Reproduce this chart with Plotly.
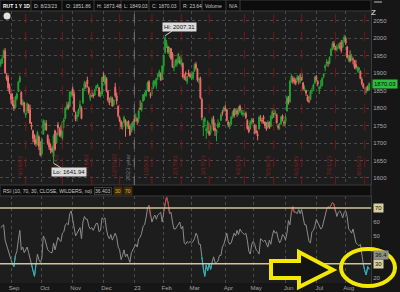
import plotly.graph_objects as go
import pandas as pd

# ---------------- data ----------------
holidays = ["2022-09-05", "2022-11-24", "2022-12-26", "2023-01-02", "2023-01-16",
            "2023-02-20", "2023-04-07", "2023-05-29", "2023-06-19", "2023-07-04"]
dates = [d for d in pd.bdate_range("2022-08-23", "2023-08-23")
         if d.strftime("%Y-%m-%d") not in holidays]

open_ = [1925,1930,1945,1963,1893,1888,1862,
 1840,1832,1810,1802,1828,1848,1876,1845,1812,1815,1780,1792,1808,1795,1752,1735,1712,1710,1698,1718,1688,
 1668,1725,1750,1755,1722,1702,1685,1684,1660,1735,1700,1752,1730,1738,1715,1762,1770,1798,1810,1805,1838,
 1855,1840,1780,1775,1782,1800,1800,1815,1858,1865,1880,1858,1828,1845,1838,1837,1855,1860,1858,1835,1840,
 1892,1870,1885,1848,1820,1822,1826,1810,1860,1835,1805,1772,1762,1745,1760,1765,1748,1762,1748,1732,1745,
 1768,1770,1770,1770,1800,1795,1820,1836,1835,1850,1875,1840,1840,1858,1870,1865,1890,1892,1898,1882,
 1920,1960,1975,1975,1955,1970,1955,1915,1922,1925,1930,1935,1925,1928,1890,1900,1875,1900,1895,
 1890,1885,1905,1925,1912,1880,1885,1825,1745,1760,1735,1738,1755,1730,1755,1768,1742,1728,1745,1752,1765,1788,1792,
 1800,1795,1760,1748,1755,1778,1795,1785,1792,1785,1805,1785,1782,1788,1785,1765,1745,1742,1760,
 1765,1752,1735,1725,1740,1772,1765,1775,1760,1752,1745,1758,1748,1772,1790,1785,1780,1748,1752,1755,1778,1760,
 1760,1792,1828,1818,1878,1885,1880,1878,1880,1888,1875,1898,1872,1852,1850,1832,1820,1825,1848,1855,1872,
 1890,1875,1855,1862,1865,1890,1915,1928,1930,1928,1950,1970,1985,1972,1968,1978,1975,1988,1975,1992,
 2000,1975,1938,1950,1940,1940,1935,1925,1910,1908,1905,1882,1868,1848,1848,1860,1851.86]
high = [1940,1948,1968,1972,1900,1895,1870,
 1845,1842,1822,1835,1845,1878,1893,1848,1825,1818,1800,1816,1812,1810,1760,1738,1725,1722,1735,1722,1705,
 1714,1768,1766,1765,1725,1712,1698,1692,1725,1738,1730,1760,1745,1750,1762,1772,1803,1818,1818,1848,1850,
 1862,1848,1790,1790,1800,1822,1805,1858,1878,1875,1890,1862,1842,1852,1842,1855,1866,1870,1860,1848,1888,
 1902,1896,1888,1852,1830,1835,1832,1825,1872,1845,1808,1778,1765,1760,1778,1768,1763,1765,1752,1758,1762,
 1782,1785,1772,1795,1822,1816,1840,1845,1852,1876,1880,1845,1860,1880,1880,1886,1898,1910,1902,1922,
 1952,2007.31,1995,1978,1975,1972,1960,1925,1940,1942,1958,1948,1948,1930,1898,1905,1892,1910,1902,
 1900,1905,1928,1932,1915,1888,1890,1830,1770,1775,1745,1765,1758,1752,1775,1778,1758,1740,1768,1760,1785,1795,1805,
 1810,1798,1765,1760,1778,1792,1800,1798,1798,1805,1810,1795,1795,1795,1790,1768,1750,1765,1772,
 1772,1755,1752,1735,1778,1780,1772,1780,1762,1760,1765,1762,1780,1795,1800,1795,1785,1755,1758,1778,1782,1765,
 1780,1835,1835,1880,1898,1892,1888,1885,1895,1892,1900,1905,1875,1865,1852,1838,1835,1852,1858,1870,1892,
 1895,1880,1862,1880,1888,1900,1925,1940,1935,1948,1972,1990,1992,1978,1982,1985,1988,1995,1995,2010,
 2005,1978,1952,1965,1955,1945,1938,1938,1920,1918,1908,1888,1872,1860,1862,1865,1873.48]
low = [1918,1926,1943,1898,1878,1850,1840,
 1813,1805,1792,1798,1822,1846,1872,1808,1806,1785,1772,1785,1785,1755,1738,1702,1695,1690,1693,1680,1662,
 1665,1724,1735,1735,1695,1680,1670,1672,1641.94,1678,1698,1722,1718,1715,1708,1742,1768,1795,1795,1802,1832,
 1835,1788,1762,1762,1775,1790,1768,1812,1850,1855,1858,1838,1820,1832,1828,1835,1852,1858,1832,1830,1835,
 1875,1865,1845,1818,1808,1815,1804,1805,1830,1810,1772,1755,1740,1738,1755,1718,1740,1740,1720,1730,1738,
 1752,1760,1752,1758,1795,1790,1818,1822,1832,1848,1845,1828,1835,1855,1862,1855,1880,1888,1878,1880,
 1905,1955,1972,1955,1945,1938,1915,1905,1918,1918,1928,1925,1918,1885,1880,1878,1868,1890,1885,
 1880,1880,1903,1910,1875,1870,1825,1765,1720,1745,1712,1728,1720,1722,1752,1735,1720,1705,1742,1745,1762,1778,1788,
 1790,1762,1745,1740,1750,1770,1772,1780,1775,1780,1788,1780,1775,1778,1768,1738,1728,1738,1752,
 1755,1725,1725,1708,1738,1762,1755,1755,1742,1735,1742,1740,1745,1768,1772,1778,1755,1738,1738,1752,1762,1748,
 1752,1790,1810,1815,1872,1870,1868,1865,1875,1868,1870,1878,1850,1848,1835,1818,1814,1822,1840,1850,1868,
 1875,1862,1840,1855,1862,1885,1905,1920,1918,1925,1948,1965,1968,1958,1962,1970,1968,1958,1972,1988,
 1980,1942,1932,1930,1935,1925,1912,1910,1902,1900,1882,1865,1855,1838,1842,1848,1849.03]
close = [1932,1942,1965,1900,1883,1858,1845,
 1825,1809,1800,1832,1840,1874,1888,1811,1818,1790,1798,1813,1793,1757,1747,1713,1702,1697,1730,1690,1665,
 1710,1763,1758,1738,1700,1688,1680,1676,1720,1682,1728,1744,1730,1722,1760,1766,1800,1807,1800,1845,1846,
 1840,1790,1768,1780,1795,1810,1770,1856,1871,1862,1868,1844,1838,1840,1834,1853,1862,1866,1835,1838,1887,
 1885,1892,1850,1823,1815,1830,1806,1823,1836,1820,1778,1763,1747,1752,1773,1748,1760,1747,1724,1754,1761,
 1762,1775,1762,1792,1796,1815,1838,1840,1850,1872,1848,1836,1857,1875,1877,1885,1895,1904,1880,1920,
 1950,2001,1985,1960,1972,1942,1918,1918,1936,1939,1955,1930,1946,1890,1888,1897,1890,1893,1890,
 1893,1902,1924,1914,1880,1882,1829,1773,1749,1770,1740,1760,1725,1748,1768,1738,1735,1737,1755,1755,1780,1785,1802,
 1795,1765,1752,1757,1774,1788,1778,1795,1784,1800,1794,1790,1786,1788,1773,1741,1733,1761,1768,
 1760,1736,1730,1720,1774,1770,1762,1768,1750,1740,1760,1745,1776,1790,1782,1785,1758,1745,1753,1774,1768,1758,
 1775,1830,1816,1877,1890,1876,1876,1872,1888,1880,1895,1880,1855,1856,1843,1822,1820,1848,1850,1866,1888,
 1881,1870,1860,1864,1885,1897,1921,1932,1929,1945,1968,1985,1975,1965,1975,1978,1975,1965,1990,2003,
 1986,1945,1943,1935,1950,1938,1917,1916,1911,1915,1885,1870,1860,1845,1858,1852,1870.03]
rsi = [56,57,58,47,43,39,36,
 33,30,28,36,39,47,54,40,42,38,40,42,38,33,30,25,21,30,37,33,31,
 34,50,48,44,40,39,38,38,45,40,46,49,47,46,52,53,58,59,58,66,68,
 62,55,50,52,54,56,48,60,64,62,62,57,55,56,54,57,59,59,53,54,63,
 62,63,55,50,48,51,47,50,52,49,42,40,33,36,40,35,37,34,31,38,40,
 41,44,42,48,49,52,57,58,63,70,72,64,60,63,65,62,65,66,67,60,68,
 73,78,74,66,67,60,55,55,57,58,60,55,57,45,44,46,45,46,45,
 46,48,52,50,44,44,35,26,21,29,25,30,26,31,35,31,31,32,36,36,42,44,48,
 52,46,44,45,49,52,50,54,51,55,53,52,51,52,47,39,37,44,46,
 44,40,39,37,48,47,46,47,44,42,47,44,50,54,52,53,48,45,47,51,50,47,
 52,61,58,67,71,67,67,66,69,66,69,64,58,58,53,46,45,53,54,57,62,
 60,57,55,56,61,64,69,71,70,72,74,73,67,64,67,68,66,63,67,68,
 64,55,54,52,55,50,45,44,43,44,36,30,25,22,28,26,36.4]

month_labels = ["Sep", "Oct", "Nov", "Dec", "23", "Feb", "Mar", "Apr", "May", "Jun", "Jul", "Aug"]
expiry_dates = ["2022-09-16", "2022-10-21", "2022-11-18", "2022-12-16", "2023-01-20", "2023-02-17",
                "2023-03-17", "2023-04-21", "2023-05-19", "2023-06-16", "2023-07-21", "2023-08-18"]
expiry_labels = ["9/16/22", "10/21/22", "11/18/22", "12/16/22", "1/20/23", "2/17/23",
                 "3/17/23", "4/21/23", "5/19/23", "6/16/23", "7/21/23", "8/18/23"]
year_date, year_label = "2023-01-03", "2023 year"
header_items = ["RUT 1 Y 1D", "D: 8/23/23", "O: 1851.86", "H: 1873.48", "L: 1849.03",
                "C: 1870.03", "R: 23.64", "Volume", "N/A"]
price_ticks = [1600, 1650, 1700, 1750, 1800, 1850, 1900, 1950, 2000, 2050]
rsi_ticks = [20, 50, 60]
rsi_levels = [70, 30]
hi_val, lo_val = 2007.31, 1641.94
last_price = 1870.03
last_rsi = 36.4

# ---------------- helpers ----------------
W, H = 400, 292
N = len(close)
x = list(range(N))
dstr = [d.strftime("%Y-%m-%d") for d in dates][:N]
idx_of = {s: i for i, s in enumerate(dstr)}
month_idx = [i for i in range(1, N) if dstr[i][5:7] != dstr[i - 1][5:7]]


def px(v):
    return v / W


def py(v):
    return 1 - v / H


XR = [-0.5, 252.25]
PLOT_R = 371 / W
FONT = "Liberation Sans, Arial, sans-serif"

fig = go.Figure()
fig.add_trace(go.Candlestick(
    x=x, open=open_, high=high, low=low, close=close,
    increasing=dict(line=dict(color="#22a432", width=1), fillcolor="#22a432"),
    decreasing=dict(line=dict(color="#f06e6a", width=1), fillcolor="#f06e6a"),
    whiskerwidth=0, xaxis="x", yaxis="y", hoverinfo="skip", showlegend=False))

# RSI: grey base, cyan below 30, red above 70
fig.add_trace(go.Scatter(x=x, y=rsi, mode="lines", line=dict(color="#8c8c8c", width=1),
                         xaxis="x2", yaxis="y2", showlegend=False, hoverinfo="skip"))
cx, cy, rx_, ry_ = [], [], [], []
for i in range(N - 1):
    if rsi[i] < 30 or rsi[i + 1] < 30:
        cx += [i, i + 1, None]
        cy += [rsi[i], rsi[i + 1], None]
    if rsi[i] > 70 or rsi[i + 1] > 70:
        rx_ += [i, i + 1, None]
        ry_ += [rsi[i], rsi[i + 1], None]
fig.add_trace(go.Scatter(x=cx, y=cy, mode="lines", line=dict(color="#1fb8c4", width=1),
                         xaxis="x2", yaxis="y2", showlegend=False, hoverinfo="skip"))
fig.add_trace(go.Scatter(x=rx_, y=ry_, mode="lines", line=dict(color="#c84444", width=1),
                         xaxis="x2", yaxis="y2", showlegend=False, hoverinfo="skip"))

shapes = []
ann = []

# header bar
shapes.append(dict(type="rect", xref="paper", yref="paper", x0=0, x1=PLOT_R, y0=py(11), y1=py(0),
                   fillcolor="#0c0c0c", line=dict(color="#3a3a3a", width=1), layer="below"))
hx = [2, 33, 65, 96, 123, 151, 182, 204, 228]
seps = [31, 62, 94, 121, 149, 180, 202, 226, 240]
for s in seps:
    shapes.append(dict(type="line", xref="paper", yref="paper", x0=px(s), x1=px(s), y0=py(11), y1=py(0),
                       line=dict(color="#3a3a3a", width=1)))
for i, (t, hxx) in enumerate(zip(header_items, hx)):
    ann.append(dict(xref="paper", yref="paper", x=px(hxx), y=py(5.5), xanchor="left", yanchor="middle",
                    text=("<b>%s</b>" % t) if i == 0 else t, showarrow=False, borderpad=0,
                    font=dict(size=5, color="#ffffff" if i == 0 else "#c8c8c8", family=FONT)))
# Z icon
ann.append(dict(xref="paper", yref="paper", x=px(378), y=py(6), text="<b>Z</b>", showarrow=False,
                font=dict(size=8, color="#bdbdbd", family=FONT)))
shapes.append(dict(type="line", xref="paper", yref="paper", x0=px(374), x1=px(382), y0=py(2), y1=py(2),
                   line=dict(color="#bdbdbd", width=1)))

# RSI header bar
shapes.append(dict(type="rect", xref="paper", yref="paper", x0=0, x1=PLOT_R, y0=py(196), y1=py(185),
                   fillcolor="#0e0e0e", line=dict(color="#3a3a3a", width=1)))
ann.append(dict(xref="paper", yref="paper", x=px(2), y=py(190.5), xanchor="left", yanchor="middle",
                text="RSI (10, 70, 30, CLOSE, WILDERS, no)", showarrow=False, borderpad=0,
                font=dict(size=5, color="#c8c8c8", family=FONT)))
ann.append(dict(xref="paper", yref="paper", x=px(94), y=py(190.5), xanchor="left", yanchor="middle",
                text="36.403", showarrow=False, bordercolor="#3a3a3a", borderwidth=1, borderpad=0,
                font=dict(size=5, color="#c8c8c8", family=FONT)))
for xx, t in [(113, "30"), (123, "70")]:
    ann.append(dict(xref="paper", yref="paper", x=px(xx), y=py(190.5), xanchor="left", yanchor="middle",
                    text=t, showarrow=False, bgcolor="#3b2c10", borderpad=1,
                    font=dict(size=5, color="#e8b030", family=FONT)))

# expiration lines and labels
for d, lab in zip(expiry_dates, expiry_labels):
    i = idx_of[d]
    shapes.append(dict(type="line", xref="x", yref="paper", x0=i, x1=i, y0=py(185), y1=py(11),
                       line=dict(color="#7a1616", width=1, dash="dash")))
    ann.append(dict(xref="x", yref="y", x=i, y=1637, xanchor="right", yanchor="middle", xshift=-1,
                    text=lab, textangle=-90, showarrow=False,
                    font=dict(size=6, color="#8a2020", family=FONT)))
iy = idx_of[year_date]
shapes.append(dict(type="line", xref="x", yref="paper", x0=iy, x1=iy, y0=py(185), y1=py(11),
                   line=dict(color="#777777", width=1, dash="dash")))
ann.append(dict(xref="x", yref="y", x=iy, y=1630, xanchor="right", yanchor="middle", xshift=-1,
                text=year_label, textangle=-90, showarrow=False,
                font=dict(size=6, color="#777777", family=FONT)))

# ! icon
shapes.append(dict(type="circle", xref="paper", yref="paper", x0=px(3.5), x1=px(10.5), y0=py(19.5),
                   y1=py(12.5), fillcolor="#e0e0e0", line=dict(width=0)))
ann.append(dict(xref="paper", yref="paper", x=px(7), y=py(16), text="<b>!</b>", showarrow=False,
                font=dict(size=6, color="#111111", family=FONT)))

# Hi / Lo labels
hi_i = high.index(hi_val)
lo_i = low.index(lo_val)
ann.append(dict(xref="x", yref="y", x=hi_i, y=hi_val, text="Hi: %.2f" % hi_val, showarrow=True,
                arrowhead=0, arrowwidth=1, arrowcolor="#cccccc", ax=14, ay=-9, bgcolor="#dcdcdc",
                borderpad=1, font=dict(size=6, color="#111111", family=FONT)))
ann.append(dict(xref="x", yref="y", x=lo_i, y=lo_val, text="Lo: %.2f" % lo_val, showarrow=True,
                arrowhead=0, arrowwidth=1, arrowcolor="#cccccc", ax=15, ay=9, bgcolor="#dcdcdc",
                borderpad=1, font=dict(size=6, color="#111111", family=FONT)))

# price badge
ann.append(dict(xref="paper", yref="y", x=px(372), y=last_price, xanchor="left", yanchor="middle",
                text="%.2f" % last_price, showarrow=False, bgcolor="#2fbf3f", borderpad=1,
                font=dict(size=6, color="#0a0a0a", family=FONT)))

# RSI levels
for lv in rsi_levels:
    shapes.append(dict(type="line", xref="paper", yref="y2", x0=0, x1=PLOT_R, y0=lv, y1=lv,
                       line=dict(color="#cfc69a", width=1.5)))
    ann.append(dict(xref="paper", yref="y2", x=px(373), y=lv, xanchor="left", yanchor="middle",
                    text=str(lv), showarrow=False, bgcolor="#d8cf9e", borderpad=1,
                    font=dict(size=6, color="#111111", family=FONT)))
ann.append(dict(xref="paper", yref="y2", x=px(373), y=last_rsi, xanchor="left", yanchor="middle",
                text=str(last_rsi), showarrow=False, bgcolor="#8e8e8e", borderpad=1,
                font=dict(size=6, color="#111111", family=FONT)))

# yellow arrow + ellipse
pts = [(271, 261), (299, 261), (299, 252), (333, 270), (299, 287), (299, 278), (271, 278)]
path = "M " + " L ".join("%f,%f" % (px(a), py(b)) for a, b in pts) + " Z"
shapes.append(dict(type="path", xref="paper", yref="paper", path=path, fillcolor="#141414",
                   line=dict(color="#f4e800", width=4)))
shapes.append(dict(type="circle", xref="paper", yref="paper", x0=px(341), x1=px(395), y0=py(286),
                   y1=py(249), line=dict(color="#f4e800", width=4)))

axis_common = dict(showgrid=True, gridcolor="#4a4a4a", griddash="dot", gridwidth=1, zeroline=False)
fig.update_layout(
    width=W, height=H, margin=dict(l=0, r=0, t=0, b=0),
    paper_bgcolor="#161616", plot_bgcolor="#1d1d1d",
    showlegend=False, hovermode=False, boxgap=0.15,
    xaxis=dict(domain=[0, PLOT_R], range=XR, anchor="y", tickvals=month_idx, showticklabels=False,
               ticks="", rangeslider=dict(visible=False), **axis_common),
    yaxis=dict(domain=[py(185), py(11)], range=[1579.9, 2077.7], side="right", anchor="x",
               tickvals=price_ticks, ticks="", showline=True, linecolor="#3a3a3a",
               tickfont=dict(size=6, color="#a8a8a8", family=FONT), **axis_common),
    xaxis2=dict(domain=[0, PLOT_R], range=XR, anchor="y2", tickvals=month_idx, ticktext=month_labels,
                ticks="", ticklabelshift=3, tickfont=dict(size=6, color="#a0a0a0", family=FONT),
                **axis_common),
    yaxis2=dict(domain=[py(283), py(196)], range=[16.2, 78.7], side="right", anchor="x2",
                tickvals=rsi_ticks, ticks="", showgrid=False, zeroline=False, showline=True,
                linecolor="#3a3a3a", tickfont=dict(size=6, color="#a8a8a8", family=FONT)),
    shapes=shapes, annotations=ann,
)

fig.write_html("out.html")
